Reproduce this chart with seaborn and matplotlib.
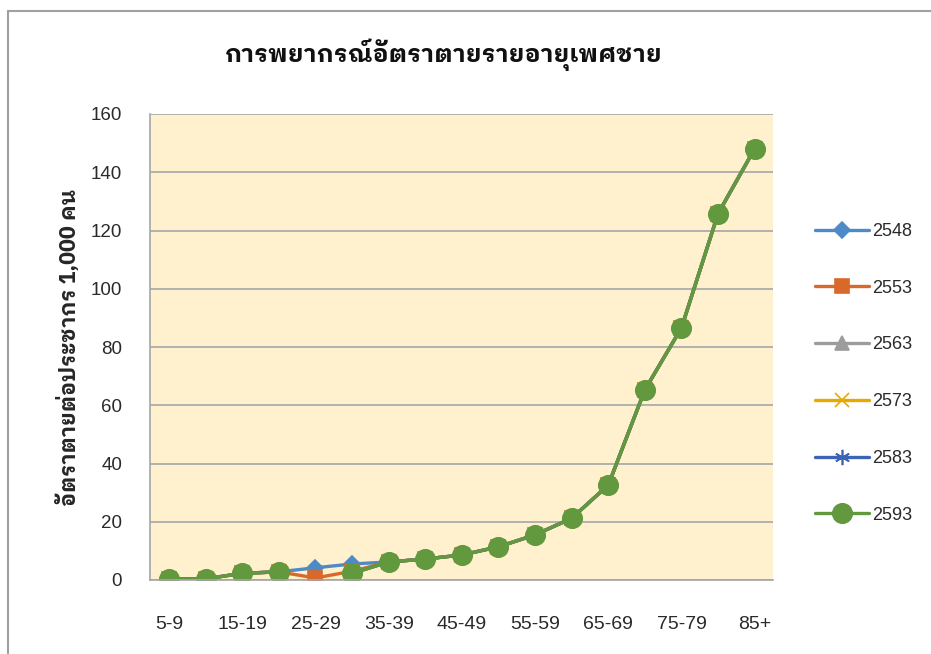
import matplotlib
matplotlib.use("Agg")
import matplotlib.pyplot as plt
from matplotlib.lines import Line2D
import seaborn as sns
import numpy as np
import pandas as pd

# age groups (x axis)
age_groups = ["5-9", "10-14", "15-19", "20-24", "25-29", "30-34", "35-39", "40-44",
              "45-49", "50-54", "55-59", "60-64", "65-69", "70-74", "75-79", "80-84", "85+"]
years = ["2548", "2553", "2563", "2573", "2583", "2593"]

# mortality rate per 1,000 population
rate_2548 = [0.4, 0.4, 2.3, 2.8, 4.2, 5.5, 6.2, 7.2, 8.6, 11.4, 15.5, 21.2, 32.6, 65.3, 86.6, 125.8, 148.1]
rate_2553 = [0.4, 0.4, 2.3, 2.8, 0.7, 3.0, 6.2, 7.2, 8.6, 11.4, 15.5, 21.2, 32.6, 65.3, 86.6, 125.8, 148.1]
rate_2563 = [0.4, 0.4, 2.3, 2.8, -10.0, 2.3, 6.2, 7.2, 8.6, 11.4, 15.5, 21.2, 32.6, 65.3, 86.6, 125.8, 148.1]
rate_2573 = [0.4, 0.4, 2.3, 2.8, -10.0, 2.3, 6.2, 7.2, 8.6, 11.4, 15.5, 21.2, 32.6, 65.3, 86.6, 125.8, 148.1]
rate_2583 = [0.4, 0.4, 2.3, 2.8, -10.0, 2.3, 6.2, 7.2, 8.6, 11.4, 15.5, 21.2, 32.6, 65.3, 86.6, 125.8, 148.1]
rate_2593 = [0.4, 0.4, 2.3, 2.8, -10.0, 2.3, 6.2, 7.2, 8.6, 11.4, 15.5, 21.2, 32.6, 65.3, 86.6, 125.8, 148.1]

series = [rate_2548, rate_2553, rate_2563, rate_2573, rate_2583, rate_2593]
colors = ["#4E8AC6", "#D8692A", "#9C9C9C", "#E9A800", "#3C63B4", "#62993E"]
markers = ["D", "s", "^", "x", (6, 2, 0), "o"]
msizes = [8, 10, 10, 10, 11, 14]

sns.set_theme(style="white")
plt.rcParams["font.family"] = ["Liberation Sans", "IBM Plex Sans Thai Looped", "DejaVu Sans"]
thai = ["IBM Plex Sans Thai Looped", "Liberation Sans"]

fig = plt.figure(figsize=(9.31, 6.54), dpi=100)
ax = fig.add_axes([150 / 931, 1 - 580 / 654, 623 / 931, 466 / 654])
ax.set_facecolor("#FFF1CE")

x = np.arange(len(age_groups))
for yr, vals, c, m, ms in zip(years, series, colors, markers, msizes):
    df = pd.DataFrame({"x": x, "rate": vals})
    sns.lineplot(data=df, x="x", y="rate", ax=ax, color=c, lw=2.4,
                 marker=m, markersize=ms, markeredgecolor=c, markeredgewidth=1.2,
                 label=yr, sort=False, clip_on=True)

ax.set_xlim(-0.52, 16.5)
ax.set_ylim(0, 160)
ax.set_yticks(range(0, 161, 20))
ax.set_xticks(x[::2])
ax.set_xticklabels(age_groups[::2])
ax.tick_params(axis="x", length=0, pad=26, labelsize=14, colors="#2a2a2a")
ax.tick_params(axis="y", length=0, pad=20, labelsize=13.5, colors="#2a2a2a")
ax.grid(axis="y", color="#A6A6A6", lw=1.2)
ax.set_axisbelow(True)
for s in ["top", "right"]:
    ax.spines[s].set_visible(False)
for s in ["left", "bottom"]:
    ax.spines[s].set_color("#A6A6A6")
    ax.spines[s].set_linewidth(1.2)
ax.set_xlabel("")
ax.set_ylabel("อัตราตายต่อประชากร 1,000 คน", family=thai, fontsize=15.5,
              fontweight="bold")
ax.yaxis.set_label_coords((80 - 150) / 623, 0.5)

fig.text(444 / 931, 1 - 55 / 654, "การพยากรณ์อัตราตายรายอายุเพศชาย", family=thai,
         fontsize=17.7, fontweight="bold", ha="center", va="center", color="#111111")

leg = ax.legend(loc="upper left", bbox_to_anchor=(806 / 931, 1 - 214 / 654),
                bbox_transform=fig.transFigure, frameon=False, fontsize=13,
                labelspacing=2.2, handlelength=3.0, handletextpad=0.15, borderpad=0)
for t in leg.get_texts():
    t.set_color("#2a2a2a")

# chart border (cropped)
fig.add_artist(Line2D([7.5 / 931, 1], [1 - 10.5 / 654] * 2, transform=fig.transFigure,
                      color="#A0A0A0", lw=1.5))
fig.add_artist(Line2D([7.5 / 931] * 2, [0, 1 - 10.5 / 654], transform=fig.transFigure,
                      color="#A0A0A0", lw=1.5))

fig.savefig("out.png", dpi=100)
